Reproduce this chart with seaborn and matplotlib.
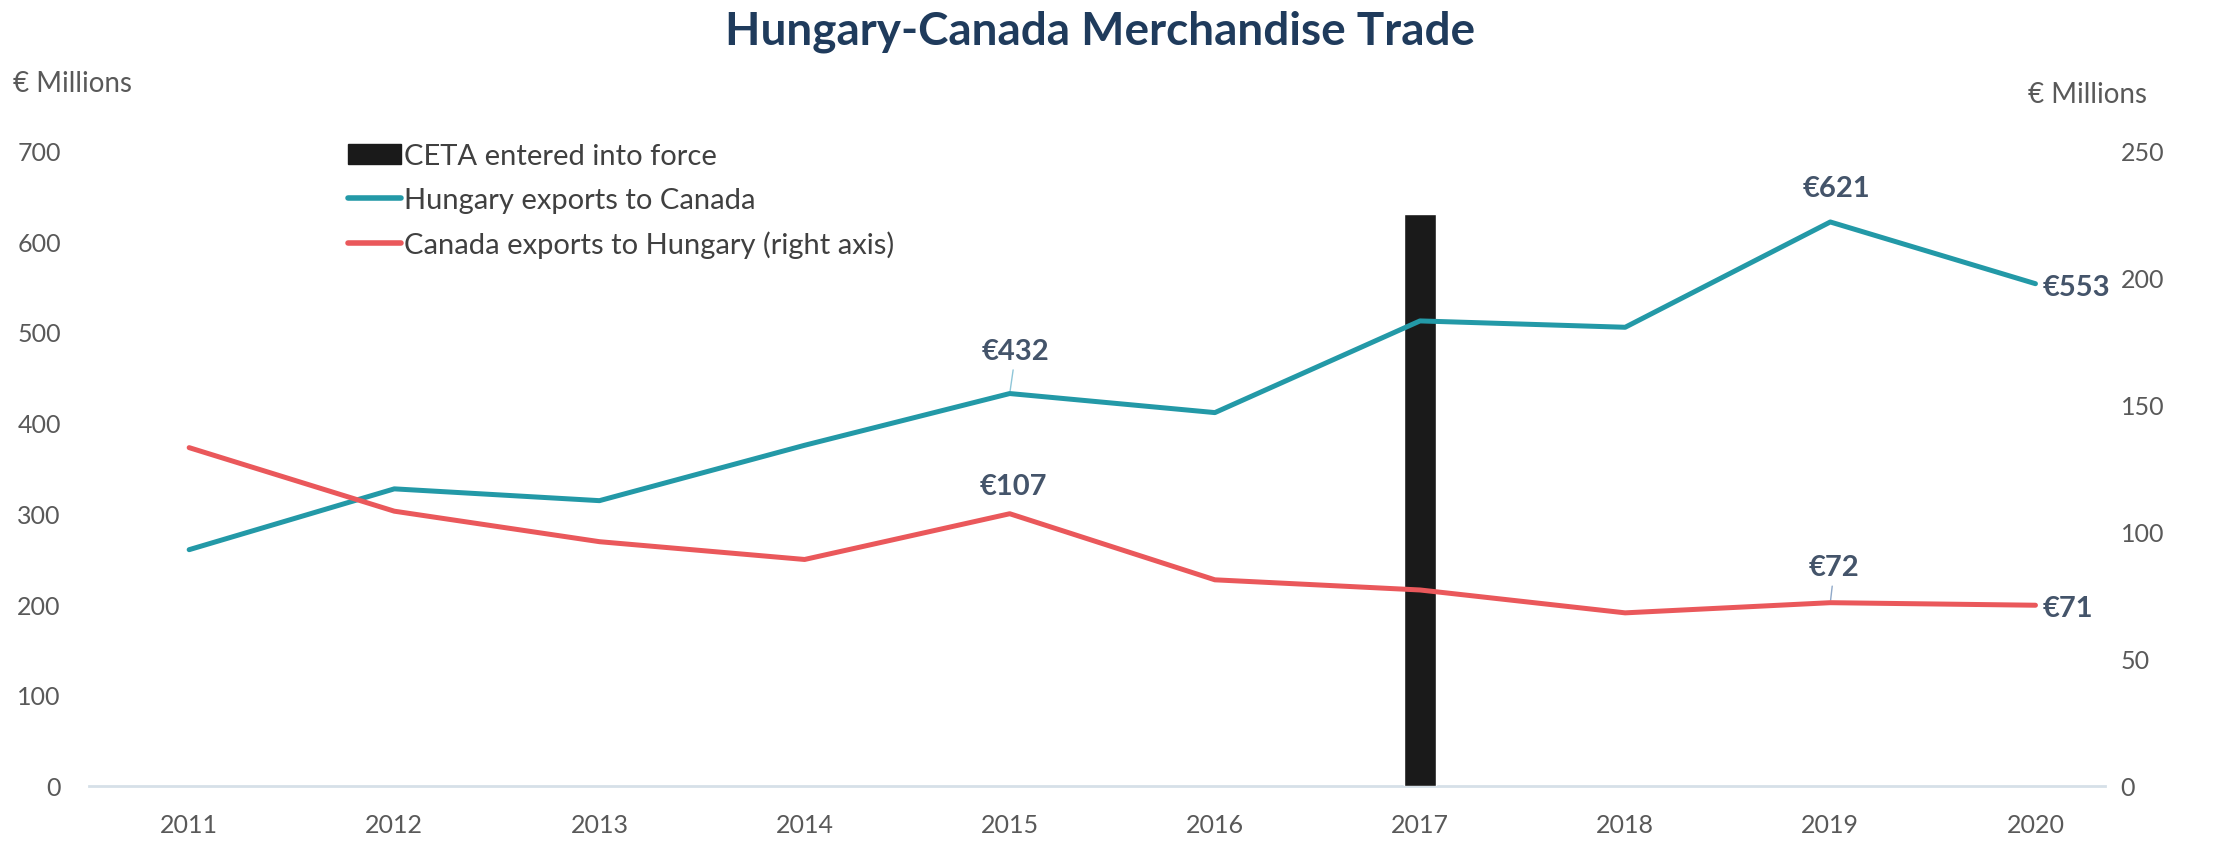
import matplotlib
matplotlib.use("Agg")
import matplotlib.pyplot as plt
import matplotlib.patches as mpatches
import matplotlib.lines as mlines
import seaborn as sns
import pandas as pd

years = [2011, 2012, 2013, 2014, 2015, 2016, 2017, 2018, 2019, 2020]
hungary_exports = [260, 327, 314, 375, 432, 411, 512, 505, 621, 553]
canada_exports = [133, 108, 96, 89, 107, 81, 77, 68, 72, 71]
ceta_year = 2017
ceta_bar = 630

left_ticks = [0, 100, 200, 300, 400, 500, 600, 700]
right_ticks = [0, 50, 100, 150, 200, 250]

TEAL = "#2399A7"
RED = "#EA585B"
GREY = "#595959"
NAVY = "#1F3B5C"
LABEL = "#44546A"

sns.set_theme(style="white")
plt.rcParams["font.family"] = ["Lato", "DejaVu Sans"]

df = pd.DataFrame({"year": years, "hungary": hungary_exports, "canada": canada_exports})

fig = plt.figure(figsize=(22.16, 8.45), dpi=100)
ax = fig.add_axes([0.040, 0.069, 0.910, 0.752])
ax2 = ax.twinx()

ax.bar([ceta_year], [ceta_bar], width=0.16, color="#1A1A1A", zorder=3)
sns.lineplot(data=df, x="year", y="hungary", ax=ax, color=TEAL, linewidth=3.6, zorder=4)
sns.lineplot(data=df, x="year", y="canada", ax=ax2, color=RED, linewidth=3.6, zorder=4)

ax.set_xlim(2011 - 0.49, 2020 + 0.34)
ax.set_ylim(0, 700)
ax2.set_ylim(0, 250)
ax.set_yticks(left_ticks)
ax2.set_yticks(right_ticks)
ax.set_xticks(years)
ax.set_xticklabels([str(y) for y in years])

for a in (ax, ax2):
    for s in a.spines.values():
        s.set_visible(False)
    a.set_xlabel("")
    a.set_ylabel("")
    a.grid(False)
ax.spines["bottom"].set_visible(True)
ax.spines["bottom"].set_color("#D6E0E8")
ax.spines["bottom"].set_linewidth(2)

ax.tick_params(axis="x", length=0, pad=20, labelsize=18, labelcolor=GREY)
ax.tick_params(axis="y", length=0, pad=20, labelsize=18, labelcolor=GREY)
ax2.tick_params(axis="y", length=0, pad=11, labelsize=18, labelcolor=GREY)

fig.text(0.4965, 0.962, "Hungary-Canada Merchandise Trade", ha="center", va="center",
         fontsize=33, fontweight="bold", color=NAVY)
fig.text(0.006, 0.900, "€ Millions", ha="left", va="center", fontsize=20, color=GREY)
fig.text(0.942, 0.887, "€ Millions", ha="center", va="center", fontsize=20, color=GREY)

# value callouts
ann = dict(fontsize=21, fontweight="bold", color=LABEL, ha="center", va="center")
ax.annotate("€432", xy=(2015, 432), xytext=(2015.03, 479),
            arrowprops=dict(arrowstyle="-", color="#8FC6D8", lw=1), **ann)
ax.annotate("€621", xy=(2019, 621), xytext=(2019.03, 658), **ann)
ax.annotate("€553", xy=(2020, 553), xytext=(2020.2, 549), **ann)
ax2.annotate("€107", xy=(2015, 107), xytext=(2015.02, 118), **ann)
ax2.annotate("€72", xy=(2019, 72), xytext=(2019.02, 86),
             arrowprops=dict(arrowstyle="-", color="#8FA8C8", lw=1), **ann)
ax2.annotate("€71", xy=(2020, 71), xytext=(2020.16, 70), **ann)

handles = [
    mpatches.Patch(color="#1A1A1A", label="CETA entered into force"),
    mlines.Line2D([], [], color=TEAL, linewidth=4, label="Hungary exports to Canada"),
    mlines.Line2D([], [], color=RED, linewidth=4, label="Canada exports to Hungary (right axis)"),
]
fig.legend(handles=handles, loc="upper left", bbox_to_anchor=(0.152, 0.843), frameon=False,
           fontsize=21, labelcolor="#404040", handlelength=1.8, handletextpad=0.1,
           labelspacing=0.6, borderaxespad=0)

fig.savefig("out.png", dpi=100, facecolor="white")
